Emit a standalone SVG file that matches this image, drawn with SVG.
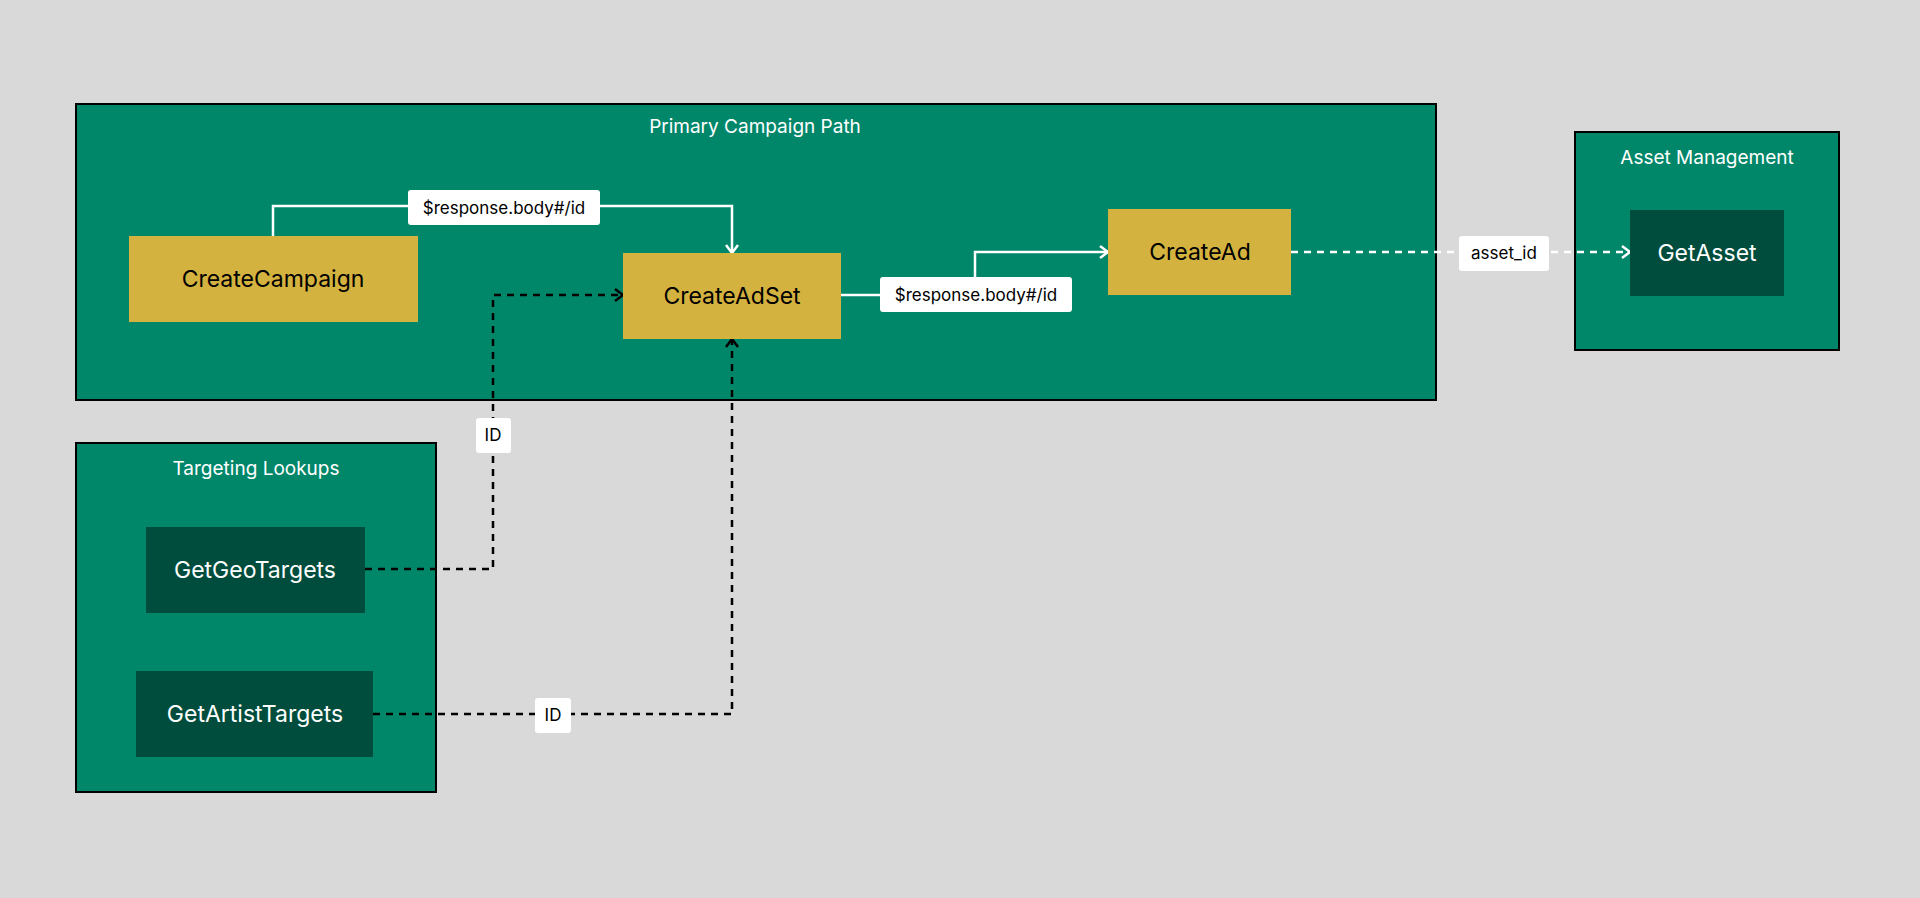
<svg xmlns="http://www.w3.org/2000/svg" width="1920" height="898" viewBox="0 0 1920 898">
<style>
.cl{fill:#00876a;stroke:#000;stroke-width:2}
.ct{font-family:Inter,"Liberation Sans",sans-serif;font-size:19px;fill:#fff;text-anchor:middle}
.ng{fill:#d4b23f}
.nd{fill:#004d3d}
.nt{font-family:Inter,"Liberation Sans",sans-serif;font-size:23px;text-anchor:middle;dominant-baseline:central}
.w{stroke:#fff;stroke-width:2.5;fill:none}
.k{stroke:#000;stroke-width:2.5;fill:none;stroke-dasharray:7,6}
.lb{fill:#fff}
.lt{font-family:Inter,"Liberation Sans",sans-serif;font-size:17px;fill:#000;text-anchor:middle;dominant-baseline:central}
</style>
<defs>
<marker id="aw" markerWidth="12" markerHeight="14" refX="10" refY="7" orient="auto" markerUnits="userSpaceOnUse"><polyline points="2,1 10,7 2,13" fill="none" stroke="#fff" stroke-width="2.5"/></marker>
<marker id="ak" markerWidth="12" markerHeight="14" refX="10" refY="7" orient="auto" markerUnits="userSpaceOnUse"><polyline points="2,1 10,7 2,13" fill="none" stroke="#000" stroke-width="2.5"/></marker>
</defs>
<rect width="1920" height="898" fill="#d9d9d9"/>
<g id="primary"><rect class="cl" x="76" y="104" width="1360" height="296"/><text class="ct" x="755" y="133">Primary Campaign Path</text></g>
<g id="asset"><rect class="cl" x="1575" y="132" width="264" height="218"/><text class="ct" x="1707" y="164">Asset Management</text></g>
<g id="targeting"><rect class="cl" x="76" y="443" width="360" height="349"/><text class="ct" x="256" y="475">Targeting Lookups</text></g>
<g id="connectors">
<polyline class="w" points="273,236 273,206 732,206 732,253" marker-end="url(#aw)"/>
<polyline class="w" points="841,295 975,295 975,252 1108,252" marker-end="url(#aw)"/>
<line class="w" x1="1291" y1="252" x2="1630" y2="252" stroke-dasharray="7,6" marker-end="url(#aw)"/>
<polyline class="k" points="365,569 493,569 493,295 623,295" marker-end="url(#ak)"/>
<polyline class="k" points="373,714 732,714 732,339" marker-end="url(#ak)"/>
<rect class="lb" x="408" y="190" width="192" height="35" rx="3"/><text class="lt" x="504" y="208">$response.body#/id</text>
<rect class="lb" x="880" y="277" width="192" height="35" rx="3"/><text class="lt" x="976" y="295">$response.body#/id</text>
<rect class="lb" x="1459" y="236" width="90" height="35" rx="3"/><text class="lt" x="1504" y="253">asset_id</text>
<rect class="lb" x="476" y="418" width="35" height="35" rx="3"/><text class="lt" x="493" y="435">ID</text>
<rect class="lb" x="535" y="698" width="36" height="35" rx="3"/><text class="lt" x="553" y="715">ID</text>
</g>
<g id="CreateCampaign"><rect class="ng" x="129" y="236" width="289" height="86"/><text class="nt" x="273" y="279">CreateCampaign</text></g>
<g id="CreateAdSet"><rect class="ng" x="623" y="253" width="218" height="86"/><text class="nt" x="732" y="296">CreateAdSet</text></g>
<g id="CreateAd"><rect class="ng" x="1108" y="209" width="183" height="86"/><text class="nt" x="1200" y="252">CreateAd</text></g>
<g id="GetAsset"><rect class="nd" x="1630" y="210" width="154" height="86"/><text class="nt" x="1707" y="253" fill="#fff">GetAsset</text></g>
<g id="GetGeoTargets"><rect class="nd" x="146" y="527" width="219" height="86"/><text class="nt" x="255" y="570" fill="#fff">GetGeoTargets</text></g>
<g id="GetArtistTargets"><rect class="nd" x="136" y="671" width="237" height="86"/><text class="nt" x="255" y="714" fill="#fff">GetArtistTargets</text></g>
</svg>
